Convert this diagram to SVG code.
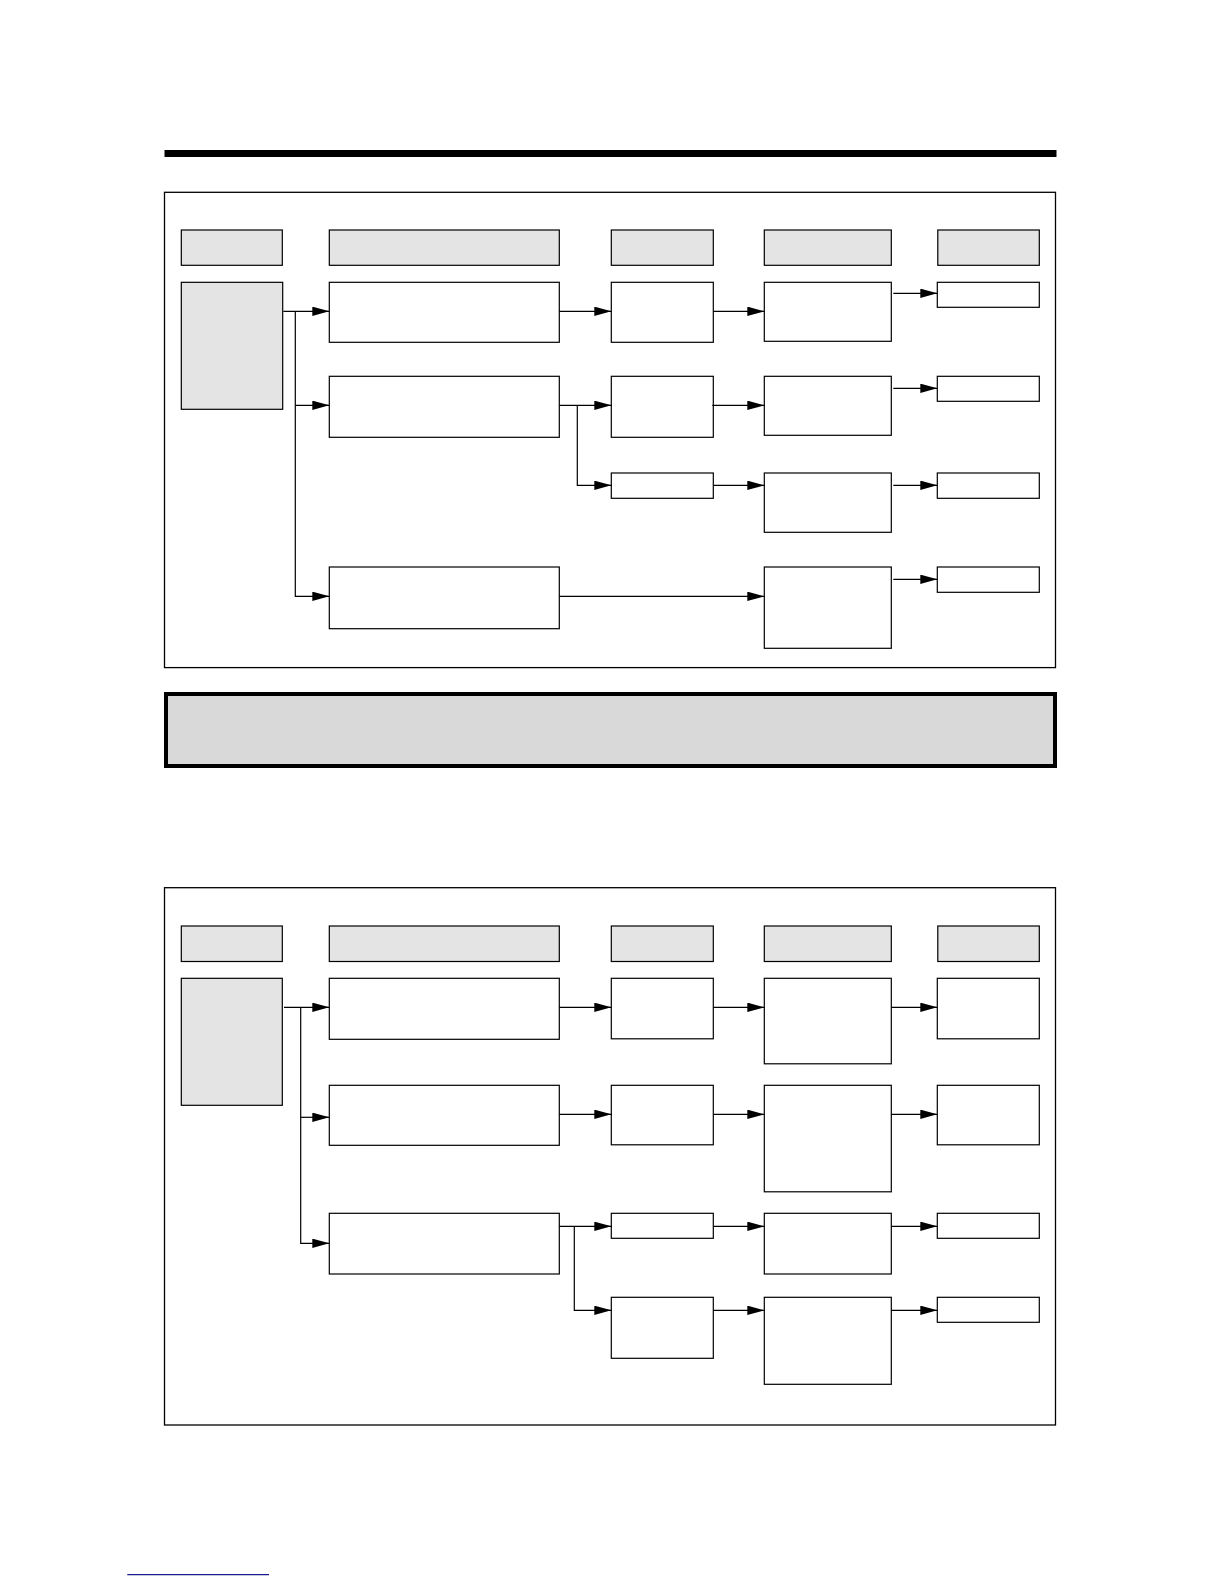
<svg xmlns="http://www.w3.org/2000/svg" width="1224" height="1584" viewBox="0 0 1224 1584">
<style>
.frame{fill:none;stroke:#000;stroke-width:1.3}
.hdr{fill:#e4e4e4;stroke:#000;stroke-width:1.2}
.box{fill:#fff;stroke:#000;stroke-width:1.2}
.con{fill:none;stroke:#000;stroke-width:1.2}
</style>
<defs>
<marker id="ah" markerUnits="userSpaceOnUse" markerWidth="18" markerHeight="10" refX="17" refY="4.7" orient="auto">
<path d="M0,0 L17,4.7 L0,9.4 Z" fill="#000"/>
</marker>
</defs>
<rect width="1224" height="1584" fill="#fff"/>
<rect x="164.5" y="150" width="892" height="7" fill="#000"/>

<!-- Diagram 1 -->
<rect class="frame" x="164.5" y="192.3" width="891" height="475.3"/>
<g id="d1-headers">
<rect id="d1-h1" class="hdr" x="181.3" y="230" width="101" height="35.3"/>
<rect id="d1-h2" class="hdr" x="329.3" y="230" width="230" height="35.3"/>
<rect id="d1-h3" class="hdr" x="611.3" y="230" width="102" height="35.3"/>
<rect id="d1-h4" class="hdr" x="764.3" y="230" width="127" height="35.3"/>
<rect id="d1-h5" class="hdr" x="937.8" y="230" width="101.5" height="35.3"/>
</g>
<g id="d1-src"><rect class="hdr" x="181.3" y="282.3" width="101.4" height="127"/></g>
<g id="d1-a1"><rect class="box" x="329.3" y="282.3" width="230" height="60"/></g>
<g id="d1-a2"><rect class="box" x="329.3" y="376.3" width="230" height="61"/></g>
<g id="d1-a3"><rect class="box" x="329.3" y="567" width="230" height="61.7"/></g>
<g id="d1-b1"><rect class="box" x="611.3" y="282.3" width="102" height="60"/></g>
<g id="d1-b2"><rect class="box" x="611.3" y="376.3" width="102" height="61"/></g>
<g id="d1-b3"><rect class="box" x="611.3" y="473" width="102" height="25.3"/></g>
<g id="d1-c1"><rect class="box" x="764.3" y="282.3" width="127" height="59"/></g>
<g id="d1-c2"><rect class="box" x="764.3" y="376.3" width="127" height="59"/></g>
<g id="d1-c3"><rect class="box" x="764.3" y="473" width="127" height="59.3"/></g>
<g id="d1-c4"><rect class="box" x="764.3" y="567" width="127" height="81.3"/></g>
<g id="d1-d1"><rect class="box" x="937.3" y="282.3" width="102" height="25"/></g>
<g id="d1-d2"><rect class="box" x="937.3" y="376.3" width="102" height="25"/></g>
<g id="d1-d3"><rect class="box" x="937.3" y="473" width="102" height="25.3"/></g>
<g id="d1-d4"><rect class="box" x="937.3" y="567" width="102" height="25.3"/></g>
<g id="d1-connectors">
<path class="con" d="M283.3,311.3 H329.3" marker-end="url(#ah)"/>
<path class="con" d="M295.3,311.3 V596.3 H329.3" marker-end="url(#ah)"/>
<path class="con" d="M295.3,405.3 H329.3" marker-end="url(#ah)"/>
<path class="con" d="M559.3,311.3 H611.3" marker-end="url(#ah)"/>
<path class="con" d="M559.3,405.3 H611.3" marker-end="url(#ah)"/>
<path class="con" d="M577.3,405.3 V485.3 H611.3" marker-end="url(#ah)"/>
<path class="con" d="M559.3,596.3 H764.3" marker-end="url(#ah)"/>
<path class="con" d="M713.3,311.3 H764.3" marker-end="url(#ah)"/>
<path class="con" d="M712.3,405.3 H764.3" marker-end="url(#ah)"/>
<path class="con" d="M713.3,485.3 H764.3" marker-end="url(#ah)"/>
<path class="con" d="M893.3,293.3 H937.3" marker-end="url(#ah)"/>
<path class="con" d="M893.3,388.3 H937.3" marker-end="url(#ah)"/>
<path class="con" d="M893.3,485.3 H937.3" marker-end="url(#ah)"/>
<path class="con" d="M893.3,579.3 H937.3" marker-end="url(#ah)"/>
</g>

<!-- Band -->
<rect x="166" y="694" width="889" height="72" fill="#d9d9d9" stroke="#000" stroke-width="4"/>

<!-- Diagram 2 -->
<rect class="frame" x="164.5" y="887.7" width="891" height="537.3"/>
<g id="d2-headers">
<rect id="d2-h1" class="hdr" x="181.3" y="926" width="101" height="35.5"/>
<rect id="d2-h2" class="hdr" x="329.3" y="926" width="230" height="35.5"/>
<rect id="d2-h3" class="hdr" x="611.3" y="926" width="102" height="35.5"/>
<rect id="d2-h4" class="hdr" x="764.3" y="926" width="127" height="35.5"/>
<rect id="d2-h5" class="hdr" x="937.8" y="926" width="101.5" height="35.5"/>
</g>
<g id="d2-src"><rect class="hdr" x="181.3" y="978.3" width="101" height="127"/></g>
<g id="d2-e1"><rect class="box" x="329.3" y="978.3" width="230" height="61"/></g>
<g id="d2-e2"><rect class="box" x="329.3" y="1085.3" width="230" height="60"/></g>
<g id="d2-e3"><rect class="box" x="329.3" y="1213.3" width="230" height="60.7"/></g>
<g id="d2-f1"><rect class="box" x="611.3" y="978.3" width="102" height="60.5"/></g>
<g id="d2-f2"><rect class="box" x="611.3" y="1085.3" width="102" height="59.5"/></g>
<g id="d2-f3"><rect class="box" x="611.3" y="1213.3" width="102" height="25"/></g>
<g id="d2-f4"><rect class="box" x="611.3" y="1297.3" width="102" height="61"/></g>
<g id="d2-g1"><rect class="box" x="764.3" y="978.3" width="127" height="85.5"/></g>
<g id="d2-g2"><rect class="box" x="764.3" y="1085.3" width="127" height="106.5"/></g>
<g id="d2-g3"><rect class="box" x="764.3" y="1213.3" width="127" height="60.7"/></g>
<g id="d2-g4"><rect class="box" x="764.3" y="1297.3" width="127" height="87"/></g>
<g id="d2-h1b"><rect class="box" x="937.3" y="978.3" width="102" height="60.5"/></g>
<g id="d2-h2b"><rect class="box" x="937.3" y="1085.3" width="102" height="59.5"/></g>
<g id="d2-h3b"><rect class="box" x="937.3" y="1213.3" width="102" height="25"/></g>
<g id="d2-h4b"><rect class="box" x="937.3" y="1297.3" width="102" height="25"/></g>
<g id="d2-connectors">
<path class="con" d="M284,1007.3 H329.3" marker-end="url(#ah)"/>
<path class="con" d="M300.7,1007.3 V1243.3 H329.3" marker-end="url(#ah)"/>
<path class="con" d="M300.7,1117.3 H329.3" marker-end="url(#ah)"/>
<path class="con" d="M559.3,1007.3 H611.3" marker-end="url(#ah)"/>
<path class="con" d="M559.3,1114.3 H611.3" marker-end="url(#ah)"/>
<path class="con" d="M559.3,1226.3 H611.3" marker-end="url(#ah)"/>
<path class="con" d="M574.3,1226.3 V1310.3 H611.3" marker-end="url(#ah)"/>
<path class="con" d="M713.3,1007.3 H764.3" marker-end="url(#ah)"/>
<path class="con" d="M713.3,1114.3 H764.3" marker-end="url(#ah)"/>
<path class="con" d="M713.3,1226.3 H764.3" marker-end="url(#ah)"/>
<path class="con" d="M713.3,1310.3 H764.3" marker-end="url(#ah)"/>
<path class="con" d="M891.3,1007.3 H937.3" marker-end="url(#ah)"/>
<path class="con" d="M891.3,1114.3 H937.3" marker-end="url(#ah)"/>
<path class="con" d="M891.3,1226.3 H937.3" marker-end="url(#ah)"/>
<path class="con" d="M891.3,1310.3 H937.3" marker-end="url(#ah)"/>
</g>

<line x1="127.3" y1="1574.7" x2="269" y2="1574.7" stroke="#1a1a8c" stroke-width="1.3"/>
</svg>
